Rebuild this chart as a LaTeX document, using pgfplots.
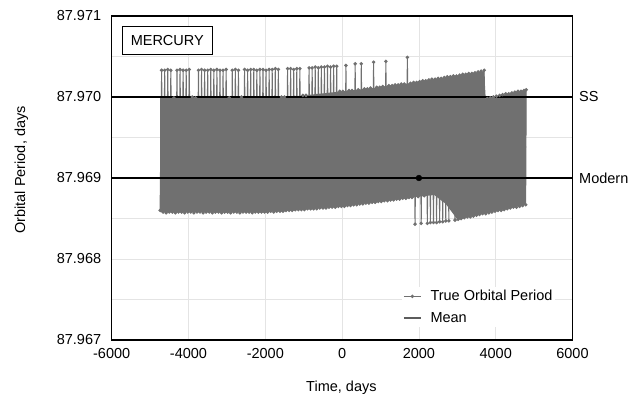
\documentclass[border=0pt]{standalone}
\usepackage{fontspec}
\setmainfont{Liberation Sans}
\usepackage{pgfplots}
\pgfplotsset{compat=1.18}

\definecolor{band}{RGB}{112,112,112}
\definecolor{meanc}{RGB}{92,92,92}
\definecolor{gridc}{RGB}{228,228,228}
\newcommand{\lbl}{\fontsize{14.5bp}{17bp}\selectfont}

\begin{document}
\begin{tikzpicture}
\path[use as bounding box] (-111.7bp,-63bp) rectangle (530.3bp,340bp);
\begin{axis}[
  scale only axis, width=460.8bp, height=324bp,
  xmin=-6000, xmax=6000, ymin=87.967, ymax=87.971,
  clip=false,
  xtick={-6000,-4000,...,6000},
  ytick={87.967,87.968,87.969,87.970,87.971},
  minor ytick={87.9675,87.9685,87.9695,87.9705},
  xmajorgrids, ymajorgrids, yminorgrids,
  grid style={draw=gridc, line width=0.8bp},
  minor grid style={draw=gridc, line width=0.8bp},
  major tick length=0pt, minor tick length=0pt,
  axis line style={line width=1.6bp},
  scaled ticks=false,
  /pgf/number format/assume math mode=true,
  /pgf/number format/1000 sep={},
  tick label style={font=\lbl},
  xticklabel style={yshift=-5bp},
  yticklabel style={xshift=-7bp, /pgf/number format/fixed,
    /pgf/number format/fixed zerofill, /pgf/number format/precision=3},
  xlabel={Time, days},
  ylabel={Orbital Period, days},
  xlabel style={font=\lbl, at={(axis description cs:0.4985,-0.148)}, anchor=center},
  ylabel style={font=\lbl, at={(axis description cs:-0.196,0.525)}, anchor=center},
  legend style={at={(axis description cs:0.63,0.163)}, anchor=north west,
    draw=none, fill=white, font=\lbl, inner sep=1bp, row sep=6bp, column sep=7bp},
  legend cell align=left,
]

% solid body of the oscillation band
\addplot[fill=band, draw=none, forget plot] coordinates {
 (-4740,87.96858) (-4740,87.96999) (-1600,87.96999) (-1200,87.97001) (-800,87.97003)
 (-400,87.97005) (0,87.97007) (400,87.97009) (800,87.97011) (1200,87.97014)
 (1600,87.97016) (2000,87.97019) (2400,87.97022) (2800,87.97025) (3200,87.97028)
 (3700,87.97032) (3740,87.96998) (4000,87.97001) (4400,87.97005) (4795,87.97009)
 (4780,87.96867) (4200,87.96861) (3800,87.96857) (3400,87.96853) (3000,87.96849)
 (2700,87.96868) (2400,87.96879) (2000,87.96877) (1500,87.96874)
 (1000,87.96871) (500,87.96868) (0,87.96865) (-500,87.96863) (-1000,87.96861)
 (-1500,87.96859) (-2000,87.96858)
};

% true orbital period, orbit by orbit
\addplot[color=band, line width=1bp, mark=*, mark size=1.2bp,
  mark options={fill=band, draw=band}] coordinates {
 (-4740,87.96860) (-4700,87.97033) (-4660,87.96858) (-4620,87.97033) (-4580,87.96857) (-4540,87.97034)
 (-4500,87.96858) (-4460,87.97033) (-4420,87.96858) (-4380,87.96999) (-4340,87.96857) (-4300,87.97033)
 (-4260,87.96858) (-4220,87.97034) (-4180,87.96858) (-4140,87.97033) (-4100,87.96857) (-4060,87.97033)
 (-4020,87.96858) (-3980,87.97034) (-3940,87.96858) (-3900,87.97000) (-3860,87.96857) (-3820,87.96999)
 (-3780,87.96858) (-3740,87.97033) (-3700,87.96858) (-3660,87.97034) (-3620,87.96857) (-3580,87.97033)
 (-3540,87.96858) (-3500,87.97033) (-3460,87.96858) (-3420,87.97034) (-3380,87.96857) (-3340,87.97033)
 (-3300,87.96858) (-3260,87.97034) (-3220,87.96858) (-3180,87.97033) (-3140,87.96857) (-3100,87.97033)
 (-3060,87.96858) (-3020,87.97034) (-2980,87.96858) (-2940,87.96999) (-2900,87.96857) (-2860,87.97033)
 (-2820,87.96858) (-2780,87.97034) (-2740,87.96858) (-2700,87.97033) (-2660,87.96857) (-2620,87.97000)
 (-2580,87.96858) (-2540,87.97034) (-2500,87.96858) (-2460,87.97033) (-2420,87.96858) (-2380,87.97034)
 (-2340,87.96857) (-2300,87.97034) (-2260,87.96858) (-2220,87.97033) (-2180,87.96858) (-2140,87.97034)
 (-2100,87.96858) (-2060,87.97034) (-2020,87.96858) (-1980,87.97033) (-1940,87.96858) (-1900,87.97034)
 (-1860,87.96859) (-1820,87.97034) (-1780,87.96858) (-1740,87.97035) (-1700,87.96859) (-1660,87.97034)
 (-1620,87.96859) (-1580,87.97000) (-1540,87.96859) (-1500,87.97000) (-1460,87.96860) (-1420,87.97035)
 (-1380,87.96860) (-1340,87.97035) (-1300,87.96860) (-1260,87.97034) (-1220,87.96861) (-1180,87.97035)
 (-1140,87.96861) (-1100,87.97035) (-1060,87.96861) (-1020,87.97002) (-980,87.96861) (-940,87.97002)
 (-900,87.96862) (-860,87.97036) (-820,87.96862) (-780,87.97036) (-740,87.96862) (-700,87.97037)
 (-660,87.96862) (-620,87.97036) (-580,87.96863) (-540,87.97037) (-500,87.96863) (-460,87.97037)
 (-420,87.96863) (-380,87.97038) (-340,87.96864) (-300,87.97037) (-260,87.96864) (-220,87.97038)
 (-180,87.96864) (-140,87.97038) (-100,87.96865) (-60,87.97007) (-20,87.96865) (20,87.97007)
 (60,87.96865) (100,87.97039) (140,87.96866) (180,87.97008) (220,87.96866) (260,87.97008)
 (300,87.96867) (340,87.97041) (380,87.96867) (420,87.97009) (460,87.96868) (500,87.97041)
 (540,87.96868) (580,87.97010) (620,87.96869) (660,87.97010) (700,87.96869) (740,87.97011)
 (780,87.96870) (820,87.97043) (860,87.96870) (900,87.97012) (940,87.96871) (980,87.97012)
 (1020,87.96871) (1060,87.97013) (1100,87.96872) (1140,87.97044) (1180,87.96872) (1220,87.97014)
 (1260,87.96873) (1300,87.97014) (1340,87.96873) (1380,87.97015) (1420,87.96874) (1460,87.97015)
 (1500,87.96874) (1540,87.97016) (1580,87.96875) (1620,87.97016) (1660,87.96875) (1700,87.97049)
 (1740,87.96876) (1780,87.97017) (1820,87.96876) (1860,87.97018) (1900,87.96843) (1940,87.97018)
 (1980,87.96877) (2020,87.97019) (2060,87.96844) (2100,87.97020) (2140,87.96878) (2180,87.97020)
 (2220,87.96844) (2260,87.97021) (2300,87.96845) (2340,87.97022) (2380,87.96845) (2420,87.97022)
 (2460,87.96845) (2500,87.97023) (2540,87.96846) (2580,87.97023) (2620,87.96846) (2660,87.97024)
 (2700,87.96847) (2740,87.97025) (2780,87.96847) (2820,87.97025) (2860,87.96882) (2900,87.97026)
 (2940,87.96848) (2980,87.97026) (3020,87.96849) (3060,87.97027) (3100,87.96850) (3140,87.97028)
 (3180,87.96851) (3220,87.97028) (3260,87.96852) (3300,87.97029) (3340,87.96852) (3380,87.97029)
 (3420,87.96853) (3460,87.97030) (3500,87.96854) (3540,87.97031) (3580,87.96855) (3620,87.97032)
 (3660,87.96856) (3700,87.97033) (3740,87.96856) (3780,87.96998) (3820,87.96857) (3860,87.96999)
 (3900,87.96858) (3940,87.97000) (3980,87.96859) (4020,87.97001) (4060,87.96860) (4100,87.97002)
 (4140,87.96860) (4180,87.97003) (4220,87.96861) (4260,87.97004) (4300,87.96862) (4340,87.97004)
 (4380,87.96863) (4420,87.97005) (4460,87.96864) (4500,87.97006) (4540,87.96864) (4580,87.97007)
 (4620,87.96865) (4660,87.97007) (4700,87.96866) (4740,87.97008) (4780,87.96867) (4795,87.97009)
};
\addlegendentry{True Orbital Period}

% running mean of the period, lying inside the band
\addplot[color=band, line width=1.3bp, legend image post style={color=meanc}] coordinates {
 (-4740,87.96929) (-2000,87.96929) (0,87.96936) (2000,87.96945) (4795,87.96938)
};
\addlegendentry{Mean}

% reference periods
\addplot[black, line width=1.4bp, forget plot] coordinates {(-6000,87.970) (6000,87.970)};
\addplot[black, line width=1.4bp, forget plot] coordinates {(-6000,87.969) (6000,87.969)};
\addplot[only marks, mark=*, mark size=2.9bp, black, forget plot] coordinates {(2000,87.969)};

\node[anchor=west, font=\lbl, xshift=3.2bp] at (axis cs:6000,87.970) {SS};
\node[anchor=west, font=\lbl, xshift=3.2bp] at (axis cs:6000,87.969) {Modern};
\node[draw, line width=1.2bp, fill=white, anchor=north west, minimum width=90bp,
  minimum height=28bp, inner sep=0pt, font=\lbl] at (rel axis cs:0.0217,0.969) {MERCURY};
\end{axis}
\end{tikzpicture}
\end{document}
